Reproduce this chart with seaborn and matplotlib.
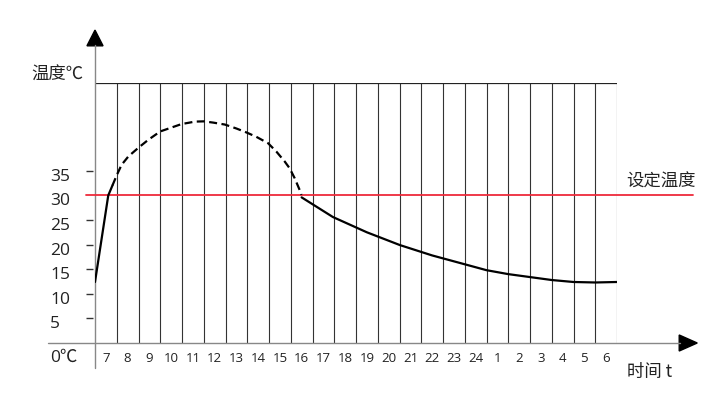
import matplotlib
matplotlib.use("Agg")
import matplotlib.pyplot as plt
from matplotlib.patches import Polygon
import seaborn as sns

# 时间轴标签 (每格一小时)
hours = ["7", "8", "9", "10", "11", "12", "13", "14", "15", "16", "17", "18",
         "19", "20", "21", "22", "23", "24", "1", "2", "3", "4", "5", "6"]
y_ticks = [5, 10, 15, 20, 25, 35]
y_labels = [5, 10, 15, 20, 25, 30, 35]
set_temp = 30

# 曲线 (x 以格为单位)
rise_x = [0.0, 0.61, 0.8]
rise_y = [12.4, 30.0, 32.0]
dash_x = [0.8, 1.0, 1.22, 1.53, 2.0, 2.45, 3.0, 3.52, 3.98, 4.6, 5.0, 5.43,
          5.97, 6.5, 6.96, 7.42, 7.96, 8.34, 8.72, 8.95, 9.18, 9.41, 9.49]
dash_y = [32.0, 34.1, 36.2, 37.9, 39.7, 41.3, 43.0, 43.8, 44.5, 45.0, 45.05, 44.8,
          44.4, 43.6, 42.8, 41.9, 40.6, 38.9, 36.9, 35.5, 33.5, 31.1, 30.1]
fall_x = [9.5, 10.94, 12.5, 14.02, 15.5, 17.0, 18.0, 19.0, 20.0, 21.0, 22.0, 23.0, 24.0]
fall_y = [29.6, 25.6, 22.5, 19.9, 17.8, 16.0, 14.8, 14.0, 13.4, 12.8, 12.4, 12.3, 12.4]

sns.set_style("white")
cjk = ["Noto Sans CJK SC", "DejaVu Sans"]
num = ["Open Sans", "DejaVu Sans"]
plt.rcParams["font.family"] = cjk

fig = plt.figure(figsize=(7.2, 4.03), dpi=100)
ax = fig.add_axes([95 / 720, 60 / 403, 522 / 720, 260 / 403])
top = 260 / 4.92

# 网格
ax.vlines(range(1, 25), 0, top, color="#333333", lw=0.8)
ax.hlines(top, 0, 24, color="#222222", lw=0.9)

# 坐标轴 + 箭头
axis_col = "#888888"
ax.plot([-2.16, 26.9], [0, 0], color=axis_col, lw=1.0, clip_on=False)
ax.plot([0, 0], [-5.1, 60.5], color=axis_col, lw=1.0, clip_on=False)
ax.add_patch(Polygon([[0, 63.6], [-0.37, 60.4], [0.37, 60.4]], closed=True,
                     color="black", clip_on=False))
ax.add_patch(Polygon([[27.69, 0], [26.86, 1.63], [26.86, -1.63]], closed=True,
                     color="black", clip_on=False))

# y 刻度
ax.hlines(y_ticks, -0.41, -0.09, color="#333333", lw=1.0, clip_on=False)
for v in y_labels:
    ax.text(-2.07, v - 1.2, str(v), ha="left", va="center", fontsize=12.5,
            family=num, color="#222222")
ax.text(-2.07, -3.1, "0℃", ha="left", va="center", fontsize=12.5,
        family=["Open Sans", "Noto Sans CJK SC"], color="#222222")

# x 刻度
for i, h in enumerate(hours):
    ax.text(i + 0.5, -3.05, h, ha="center", va="center", fontsize=9.5,
            family=num, color="#222222")

# 设定温度
ax.plot([-0.41, 27.5], [set_temp, set_temp], color="#ee2a3a", lw=1.3, clip_on=False)
ax.text(26.03, 32.8, "设定温度", ha="center", va="center", fontsize=12.5, color="#222222")

ax.text(-1.74, 54.5, "温度℃", ha="center", va="center", fontsize=12.5, color="#222222")
ax.text(25.48, -5.9, "时间 t", ha="center", va="center", fontsize=12.5, color="#222222")

# 温度曲线
sns.lineplot(x=rise_x, y=rise_y, ax=ax, color="black", lw=1.6, sort=False)
sns.lineplot(x=dash_x, y=dash_y, ax=ax, color="black", lw=1.6, sort=False,
             linestyle=(0, (3.6, 2.0)))
sns.lineplot(x=fall_x, y=fall_y, ax=ax, color="black", lw=1.6, sort=False)
ax.set_xlim(0, 24)
ax.set_ylim(0, top)
ax.axis("off")

fig.savefig("out.png", dpi=100)
